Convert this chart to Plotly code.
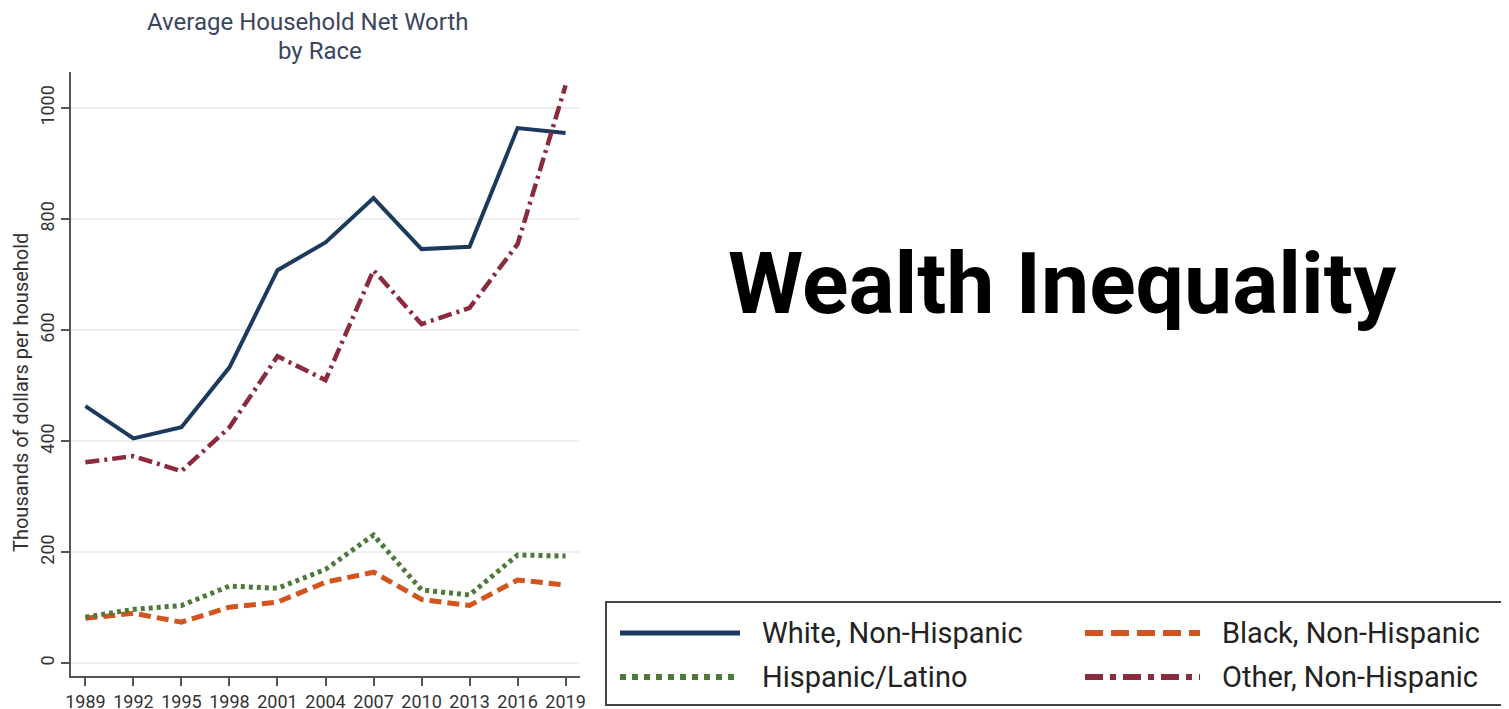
import plotly.graph_objects as go

W, H = 1509, 709
OFF = 8  # page body margin offset

years = [1989, 1992, 1995, 1998, 2001, 2004, 2007, 2010, 2013, 2016, 2019]
white = [463, 405, 425, 533, 708, 758, 838, 746, 750, 964, 955]
black = [81, 90, 74, 101, 110, 146, 164, 115, 104, 150, 141]
hispanic = [83, 97, 104, 139, 135, 169, 231, 132, 123, 195, 193]
other = [362, 373, 346, 425, 553, 510, 708, 611, 640, 755, 1041]

y_ticks = [0, 200, 400, 600, 800, 1000]
names = ["White, Non-Hispanic", "Black, Non-Hispanic", "Hispanic/Latino", "Other, Non-Hispanic"]

C_WHITE = "#1b3a5e"
C_BLACK = "#d2541f"
C_HISP = "#4d7a3a"
C_OTHER = "#8a2c3d"

def px(x):
    return (x - OFF) / W

def py(y):
    return 1 - (y - OFF) / H

fig = go.Figure()
fig.add_trace(go.Scatter(x=years, y=white, mode="lines", name=names[0],
                         line=dict(color=C_WHITE, width=4)))
fig.add_trace(go.Scatter(x=years, y=black, mode="lines", name=names[1],
                         line=dict(color=C_BLACK, width=5, dash="12px,6px")))
fig.add_trace(go.Scatter(x=years, y=hispanic, mode="lines", name=names[2],
                         line=dict(color=C_HISP, width=5, dash="4px,4px")))
fig.add_trace(go.Scatter(x=years, y=other, mode="lines", name=names[3],
                         line=dict(color=C_OTHER, width=4.5, dash="14px,5px,3px,5px")))

FONT = "Roboto, sans-serif"
TICKFONT = dict(family=FONT, size=18, color="#333333")

fig.update_layout(
    width=W, height=H,
    margin=dict(l=0, r=0, t=0, b=0),
    paper_bgcolor="white", plot_bgcolor="white",
    showlegend=False,
    xaxis=dict(domain=[px(71), px(580)], range=[1988.1, 2019.9],
               tickvals=years, ticktext=[str(y) for y in years],
               ticks="outside", ticklen=8, tickwidth=1.5, tickcolor="#555",
               showline=True, linecolor="#555", linewidth=2,
               showgrid=False, zeroline=False, tickfont=TICKFONT,
               automargin=False, fixedrange=True),
    yaxis=dict(domain=[py(676), py(72)], range=[-23, 1065],
               tickvals=y_ticks, ticktext=[str(v) for v in y_ticks],
               tickangle=-90,
               ticks="outside", ticklen=8, tickwidth=1.5, tickcolor="#555",
               showline=True, linecolor="#555", linewidth=2,
               showgrid=True, gridcolor="#efefef", gridwidth=1.5,
               zeroline=False, tickfont=TICKFONT,
               automargin=False, fixedrange=True),
)

annotations = [
    dict(text="Average Household Net Worth", x=px(308), y=py(22),
         xref="paper", yref="paper", xanchor="center", yanchor="middle",
         showarrow=False, font=dict(family=FONT, size=24, color="#3a4560")),
    dict(text="by Race", x=px(320), y=py(51),
         xref="paper", yref="paper", xanchor="center", yanchor="middle",
         showarrow=False, font=dict(family=FONT, size=24, color="#3a4560")),
    dict(text="Thousands of dollars per household", x=px(21), y=py(393), textangle=-90,
         xref="paper", yref="paper", xanchor="center", yanchor="middle",
         showarrow=False, font=dict(family=FONT, size=20, color="#333")),
    dict(text="<b>Wealth Inequality</b>", x=px(1062), y=py(283),
         xref="paper", yref="paper", xanchor="center", yanchor="middle",
         showarrow=False, font=dict(family=FONT, size=86, color="#000000")),
]

shapes = [
    dict(type="rect", xref="paper", yref="paper", x0=px(606), x1=px(1507), y0=py(705), y1=py(602),
         line=dict(color="#444", width=2), fillcolor="rgba(0,0,0,0)"),
]

legend_items = [
    (names[0], C_WHITE, "solid", 5, 620, 740, 633, 760),
    (names[1], C_BLACK, "18px,8px", 6, 1085, 1200, 633, 1220),
    (names[2], C_HISP, "6px,6px", 6, 620, 740, 677, 760),
    (names[3], C_OTHER, "18px,7px,6px,7px", 6, 1085, 1200, 677, 1220),
]
for name, col, dash, w, x0, x1, yy, tx in legend_items:
    shapes.append(dict(type="line", xref="paper", yref="paper", x0=px(x0), x1=px(x1),
                       y0=py(yy), y1=py(yy), line=dict(color=col, width=w, dash=dash)))
    annotations.append(dict(text=name, x=px(tx), y=py(yy), xref="paper", yref="paper",
                            xanchor="left", yanchor="middle", showarrow=False,
                            font=dict(family=FONT, size=29, color="#222")))

fig.update_layout(annotations=annotations, shapes=shapes)
fig.write_html("out.html")
